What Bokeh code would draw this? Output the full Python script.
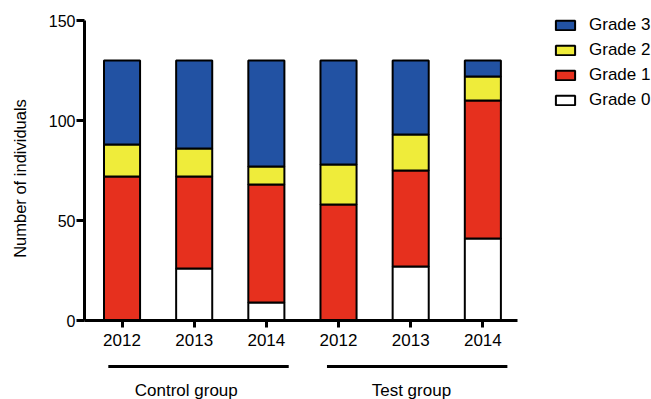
import math
from bokeh.plotting import figure
from bokeh.models import ColumnDataSource, Range1d, FixedTicker, Legend, LegendItem, Label, Arrow
from bokeh.embed import file_html
from bokeh.resources import INLINE

# ---- data ----
years = ["2012", "2013", "2014", "2012", "2013", "2014"]
groups = ["Control group", "Test group"]
grade0 = [0, 26, 9, 0, 27, 41]
grade1 = [72, 46, 59, 58, 48, 69]
grade2 = [16, 14, 9, 20, 18, 12]
grade3 = [42, 44, 53, 52, 37, 8]
grade_names = ["Grade 0", "Grade 1", "Grade 2", "Grade 3"]
colors = ["#FFFFFF", "#E6301E", "#EFEC3A", "#2252A3"]
yticks = [0, 50, 100, 150]
y_label = "Number of individuals"

FONT = "Liberation Sans"
xpos = list(range(len(years)))

src = ColumnDataSource(dict(x=xpos, g0=grade0, g1=grade1, g2=grade2, g3=grade3))

# frame covers the whole canvas; axes are pinned with fixed_location
p = figure(width=651, height=399, output_backend="svg", toolbar_location=None,
           x_range=Range1d(-1.684, 7.337), y_range=Range1d(-39.5, 160),
           min_border_left=0, min_border_right=0, min_border_top=0, min_border_bottom=0)
p.outline_line_color = None
p.grid.visible = False
p.background_fill_color = "white"
p.border_fill_color = "white"

renderers = p.vbar_stack(["g0", "g1", "g2", "g3"], x="x", width=0.5, source=src,
                         fill_color=colors, line_color="black", line_width=2)

# axes
xa = p.xaxis[0]
xa.fixed_location = 0
xa.bounds = (-0.52, 5.48)
xa.ticker = FixedTicker(ticks=xpos)
xa.major_label_overrides = {i: y for i, y in zip(xpos, years)}
xa.minor_tick_line_color = None
xa.axis_line_width = 3
xa.major_tick_line_width = 3
xa.major_tick_in = 0
xa.major_tick_out = 7
xa.major_label_standoff = 6
xa.major_label_text_font = FONT
xa.major_label_text_font_size = "17px"
xa.major_label_text_color = "black"

ya = p.yaxis[0]
ya.fixed_location = -0.52
ya.bounds = (0, 150)
ya.ticker = FixedTicker(ticks=yticks)
ya.minor_tick_line_color = None
ya.axis_line_width = 3
ya.major_tick_line_width = 3
ya.major_tick_in = 0
ya.major_tick_out = 8
ya.major_label_standoff = 1
ya.major_label_text_font = FONT
ya.major_label_text_font_size = "16px"
ya.major_label_text_color = "black"

p.add_layout(Label(x=-1.407, y=71, text=y_label, angle=math.pi / 2,
                   text_align="center", text_baseline="middle",
                   text_font=FONT, text_font_size="16.5px", text_color="black"))

# legend (Grade 3 on top)
items = [LegendItem(label=grade_names[i], renderers=[renderers[i]]) for i in reversed(range(4))]
leg = Legend(items=items, location=(553, 289), padding=0, margin=0, spacing=5,
             glyph_width=24, glyph_height=12, label_height=20, label_standoff=12,
             label_text_font=FONT, label_text_font_size="17px", label_text_color="black",
             border_line_color=None, background_fill_alpha=0)
p.add_layout(leg, "center")

# group brackets and labels
spans = [(-0.19, 2.31), (2.84, 5.34)]
label_x = [0.89, 4.01]
for (a, b), lx, g in zip(spans, label_x, groups):
    p.add_layout(Arrow(end=None, x_start=a, x_end=b, y_start=-23, y_end=-23,
                       line_width=3, line_color="black"))
    p.add_layout(Label(x=lx, y=-35, text=g, text_align="center", text_baseline="middle",
                       text_font=FONT, text_font_size="17px", text_color="black"))

open("out.html", "w").write(file_html(p, INLINE))
